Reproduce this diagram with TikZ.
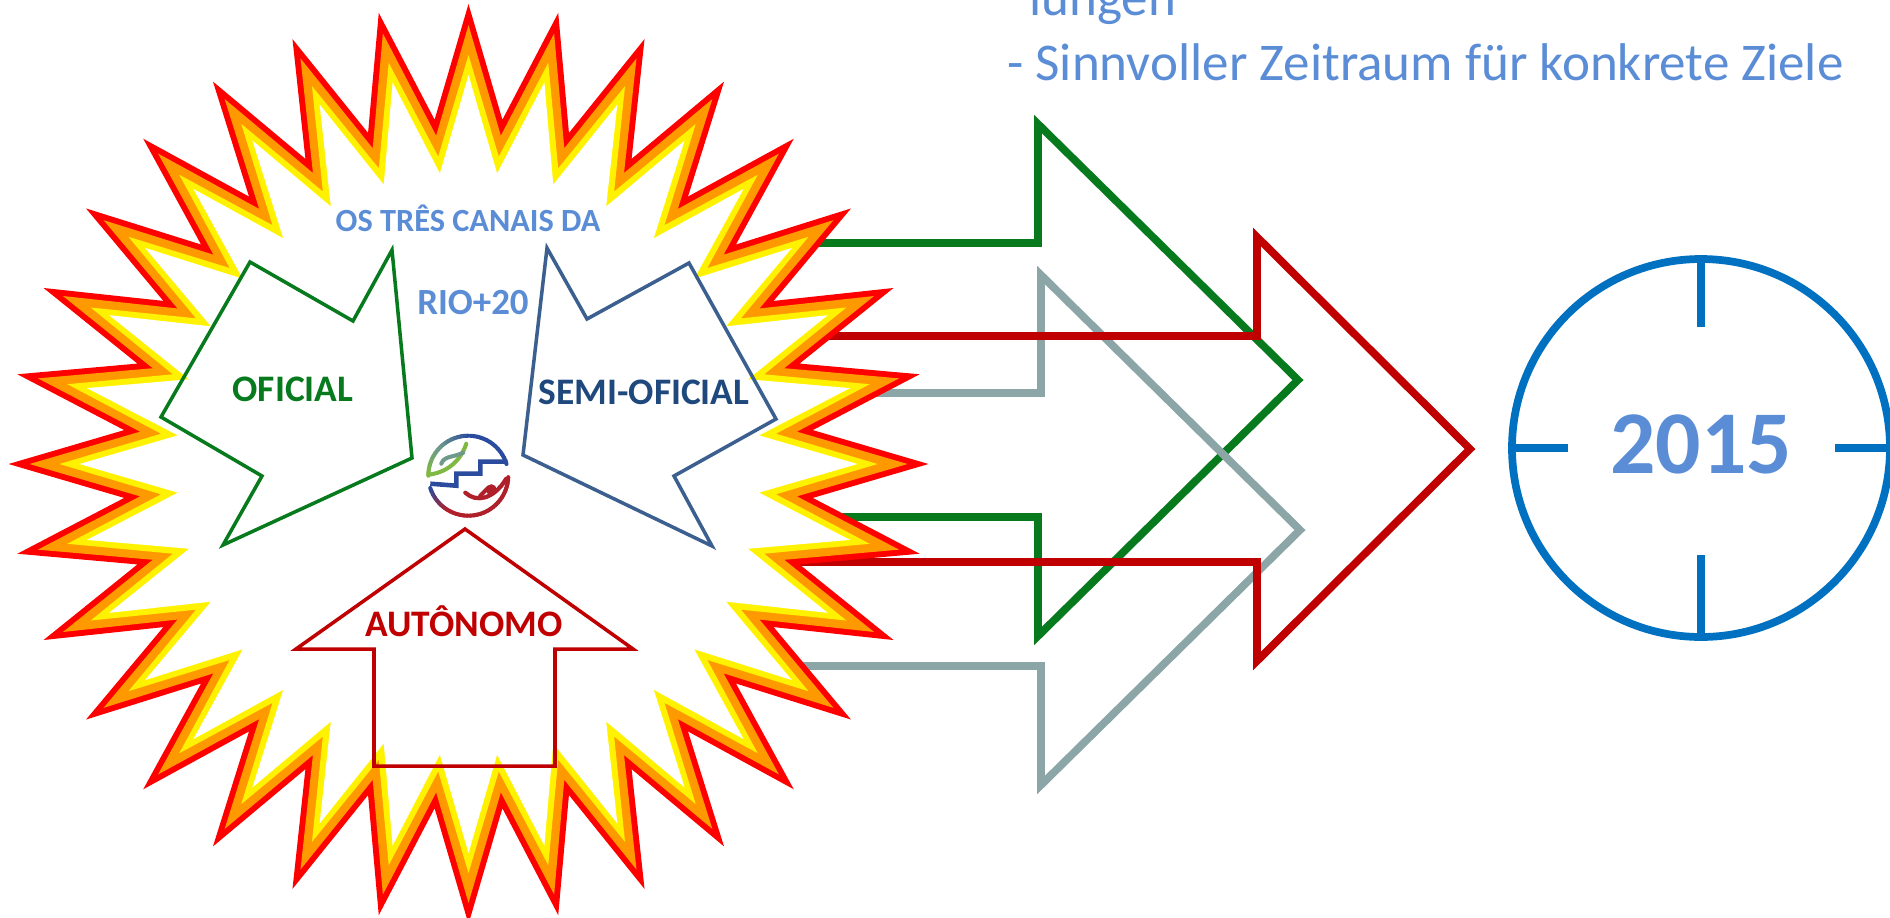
\documentclass[tikz,border=0pt]{standalone}
\usepackage{fontspec}
\setmainfont{Carlito}
\usetikzlibrary{calc}
\definecolor{agreen}{HTML}{067A1C}
\definecolor{ared}{HTML}{C00000}
\definecolor{agrey}{HTML}{8CA6A8}
\definecolor{clockblue}{HTML}{0070C0}
\definecolor{txtblue}{HTML}{5B8DD6}
\definecolor{semiblue}{HTML}{3B5F8F}
\definecolor{semitxt}{HTML}{1F497D}
\definecolor{logoblue}{HTML}{2B4C9E}
\definecolor{logogreen}{HTML}{7FB941}
\definecolor{logored}{HTML}{B0202A}
\definecolor{logoteal}{HTML}{6F9A8A}
\definecolor{starorange}{HTML}{FF9900}
\tikzset{
  x=0.02cm,y=-0.02cm,
  bigarrow/.style={line width=4.4pt,miter limit=10,line join=miter},
  thinarrow/.style={line width=2pt,miter limit=10,line join=miter},
  lbl/.style={inner sep=0pt,anchor=base,font=\bfseries\fontsize{#1}{#1}\selectfont},
  plain/.style={inner sep=0pt,anchor=base west,text=txtblue,font=\fontsize{30.2}{32}\selectfont},
  tick/.style={clockblue,line width=4.2pt},
  lg/.style={line width=2.3pt,line cap=round,line join=round},
}
\newcommand{\starshape}[3]{%
  \fill[#3,shift={(468.5,464)}] (0:#1)
    \foreach \i in {0,...,31}{ -- ({\i*11.25+5.625}:#2) -- ({(\i+1)*11.25}:#1)} -- cycle;}
\begin{document}
\begin{tikzpicture}
\useasboundingbox (0,0) rectangle (1890,917);
\clip (0,0) rectangle (1890,917);
% big arrows
\draw[bigarrow,agreen] (790,243) -- (1038,243) -- (1038,124) -- (1298,380) -- (1038,636) -- (1038,517) -- (800,517);
\draw[bigarrow,agrey] (800,393) -- (1041,393) -- (1041,275) -- (1300,530) -- (1041,785) -- (1041,666) -- (780,666);
\draw[bigarrow,ared] (800,336) -- (1257,336) -- (1257,237) -- (1470,449) -- (1257,661) -- (1257,562) -- (780,562);
% star
\starshape{460}{346}{red}
\starshape{439}{330}{starorange}
\starshape{409}{309}{yellow}
\starshape{389}{292}{white}
% inner arrows
\draw[thinarrow,agreen] (250,262) -- (353,321) -- (392,250) -- (412,458) -- (223,545) -- (262,476) -- (161,417) -- cycle;
\draw[thinarrow,semiblue] (547,248) -- (587,319) -- (689,263) -- (776,419) -- (674,476) -- (712,546) -- (523,455) -- cycle;
\draw[thinarrow,ared] (465,529) -- (633,649) -- (555,649) -- (555,766) -- (374,766) -- (374,649) -- (296,649) -- cycle;
% labels
\node[lbl=18.4,text=txtblue] (canais) at (468,231) {OS TRÊS CANAIS DA};
\node[lbl=21,text=txtblue] (rio) at (473,314) {RIO+20};
\node[lbl=21.3,text=agreen] (oficial) at (293,401) {OFICIAL};
\node[lbl=21.3,text=semitxt] (semi) at (644,404) {SEMI-OFICIAL};
\node[lbl=21.3,text=ared] (auto) at (464,636) {AUTÔNOMO};
% logo
\begin{scope}[shift={(468.3,475.7)}]
  \foreach \t in {17,22,...,85}{\draw[lg,logoblue] ({40*cos(\t)},{-40*sin(\t)}) -- ({40*cos(\t+5)},{-40*sin(\t+5)});}
  \foreach \t in {90,95,...,135}{\pgfmathsetmacro\p{(\t-90)*100/45}\draw[lg,logoteal!\p!logoblue] ({40*cos(\t)},{-40*sin(\t)}) -- ({40*cos(\t+5)},{-40*sin(\t+5)});}
  \foreach \t in {140,145,...,175}{\pgfmathsetmacro\p{(\t-140)*100/35}\draw[lg,logogreen!\p!logoteal] ({40*cos(\t)},{-40*sin(\t)}) -- ({40*cos(\t+5)},{-40*sin(\t+5)});}
  \foreach \t in {198,203,...,238}{\pgfmathsetmacro\p{(\t-198)*100/40}\draw[lg,logored!\p!logoblue] ({40*cos(\t)},{-40*sin(\t)}) -- ({40*cos(\t+5)},{-40*sin(\t+5)});}
  \foreach \t in {243,248,...,355}{\draw[lg,logored] ({40*cos(\t)},{-40*sin(\t)}) -- ({40*cos(\t+5)},{-40*sin(\t+5)});}
  \draw[lg,logogreen] (-40,-1) .. controls (-22,-3) and (-8,-14) .. (-2,-32);
  \draw[lg,logoteal] (-27,-12) .. controls (-24,-20) and (-16,-18) .. (-5,-23);
  \draw[lg,logoblue,line width=2.6pt,line cap=butt,line join=miter] (-38,8) -- (-12,10) -- (-12,-2) -- (12,-2) -- (12,-14) -- (39,-14);
  \draw[logored,line width=2.4pt,line cap=round] (-3,17) .. controls (8,27) and (25,24) .. (38,3);
  \draw[logored,line width=2.4pt,line cap=round] (20,12) -- (12,20);
  \fill[logored] (23,14) circle (5.5);
\end{scope}
% headline text
\node[plain] (lungen) at (1029,15) {lungen};
\node[plain] (ziele) at (1007,80) {- Sinnvoller Zeitraum für konkrete Ziele};
% clock
\draw[clockblue,line width=4.4pt] (1701,448) circle (189);
\draw[tick] (1701,261) -- (1701,327);
\draw[tick] (1701,555) -- (1701,637);
\draw[tick] (1512,448) -- (1568,448);
\draw[tick] (1835,448) -- (1890,448);
\node[lbl=51,text=txtblue] (year) at (1701,473) {2015};
\end{tikzpicture}
\end{document}
